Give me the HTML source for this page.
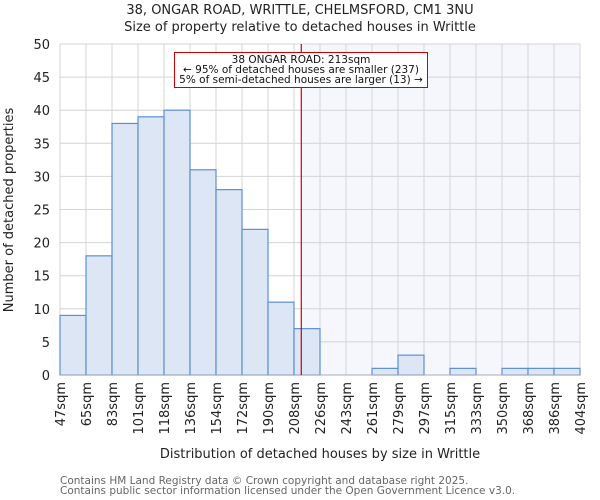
<!DOCTYPE html>
<html><head><meta charset="utf-8"><style>body{margin:0;background:#fff}svg{display:block;font-family:"DejaVu Sans","Liberation Sans",sans-serif}</style></head>
<body>
<svg id="c" width="600" height="500"></svg>
<script>
const tickLabels=["47sqm","65sqm","83sqm","101sqm","118sqm","136sqm","154sqm","172sqm","190sqm","208sqm","226sqm","243sqm","261sqm","279sqm","297sqm","315sqm","333sqm","350sqm","368sqm","386sqm","404sqm"];
const counts=[9,18,38,39,40,31,28,22,11,7,0,0,1,3,0,1,0,1,1,1];
const yTicks=[0,5,10,15,20,25,30,35,40,45,50];
const markerBinPos=9.28;
const NS="http://www.w3.org/2000/svg",svg=document.getElementById('c');
const L=60,R=580,T=44,B=375,nb=tickLabels.length-1,bw=(R-L)/nb;
const x=i=>L+i*bw, y=v=>B-(v/50)*(B-T);
function el(t,a,p){const e=document.createElementNS(NS,t);for(const k in a)e.setAttribute(k,a[k]);(p||svg).appendChild(e);return e;}
function tx(s,a){const e=el('text',a);e.textContent=s;return e;}
const mx=x(markerBinPos);
const sh=el('rect',{x:mx,y:T,width:R-mx,height:B-T,fill:'#f5f7fd'});

for(const v of yTicks){const g=el('line',{x1:L,x2:R,y1:y(v),y2:y(v),stroke:'#d4d4d4'});

const t=tx(String(v),{x:L-10,y:y(v)+5,'text-anchor':'end','font-size':13,fill:'#222'});
}
for(let i=0;i<=nb;i++){const g=el('line',{x1:x(i),x2:x(i),y1:T,y2:B,stroke:'#d4d4d4'});

const t=tx(tickLabels[i],{transform:`translate(${x(i)+5},382) rotate(-90)`,'text-anchor':'end','font-size':13,fill:'#222'});
}
for(let i=0;i<nb;i++){if(!counts[i])continue;const b=el('rect',{x:x(i),y:y(counts[i]),width:bw,height:B-y(counts[i]),fill:'#dde6f5',stroke:'#5b8fd6','stroke-width':1.2});
}
const ax=el('line',{x1:L,x2:R,y1:B,y2:B,stroke:'#aab',"stroke-width":1});

const ml=el('line',{x1:mx,x2:mx,y1:T,y2:B,stroke:'#cc0000','stroke-width':1.2});

const bx=el('rect',{x:174.5,y:52.5,width:253,height:35,fill:'#fff',stroke:'#cc0000'});

[["38 ONGAR ROAD: 213sqm",62],["← 95% of detached houses are smaller (237)",72],["5% of semi-detached houses are larger (13) →",82]].forEach(a=>{
const t=tx(a[0],{x:301,y:a[1]+1,'text-anchor':'middle','font-size':10.5,fill:'#111'});
});
let t=tx("38, ONGAR ROAD, WRITTLE, CHELMSFORD, CM1 3NU",{x:300,y:14,'text-anchor':'middle','font-size':13,fill:'#222'});

t=tx("Size of property relative to detached houses in Writtle",{x:300,y:31,'text-anchor':'middle','font-size':13,fill:'#222'});

t=tx("Distribution of detached houses by size in Writtle",{x:320,y:458,'text-anchor':'middle','font-size':13,fill:'#222'});

t=tx("Number of detached properties",{transform:'translate(13,210) rotate(-90)','text-anchor':'middle','font-size':13,fill:'#222'});

t=tx("Contains HM Land Registry data © Crown copyright and database right 2025.",{x:60,y:484,'font-size':10.5,fill:'#666'});

t=tx("Contains public sector information licensed under the Open Government Licence v3.0.",{x:60,y:494,'font-size':10.5,fill:'#666'});

</script>
</body></html>
